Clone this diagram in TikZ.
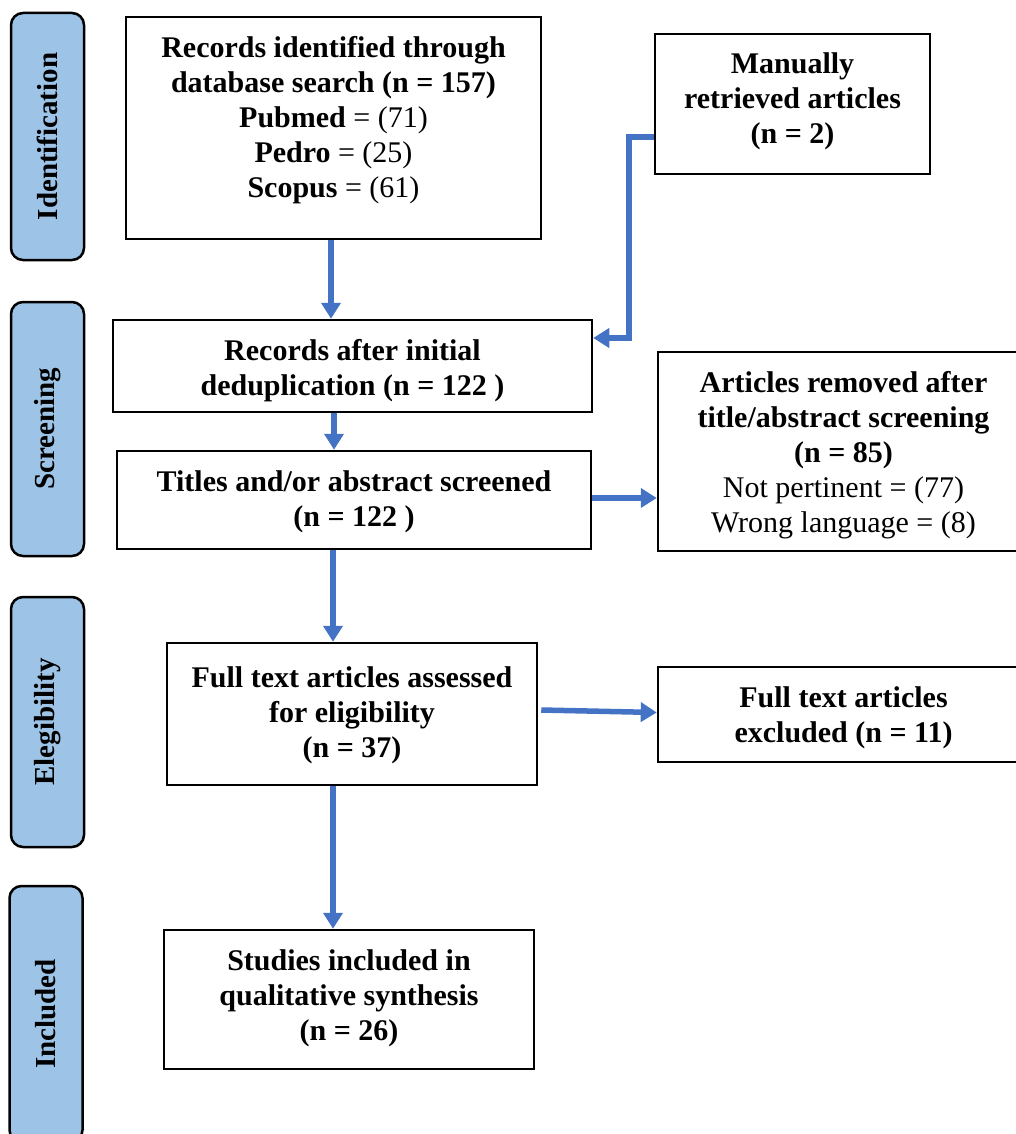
\documentclass[tikz,border=0pt]{standalone}
\usepackage{fontspec}
\setmainfont{Liberation Serif}
\usetikzlibrary{arrows.meta,calc}
\definecolor{arrblue}{HTML}{4472C4}
\definecolor{sidefill}{HTML}{9DC3E6}
\begin{document}
\begin{tikzpicture}[x=1pt,y=-1pt,
  box/.style={draw=black,line width=2.5pt,inner sep=0pt},
  txt/.style={align=center,inner sep=0pt,font=\fontsize{30}{35}\selectfont},
  side/.style={draw=black,fill=sidefill,line width=2.5pt,rounded corners=12pt,
    rotate=90,inner sep=0pt,minimum height=73pt,
    font=\fontsize{29}{35}\selectfont\bfseries},
  arr/.style={draw=arrblue,line width=5.5pt,-{Triangle[length=16pt,width=19pt]}}]
\useasboundingbox (0,0) rectangle (1016,1134);
\clip (0,0) rectangle (1016,1134);
% side labels
\node[side,minimum width=247pt] (sid) at (47.5,136.5) {Identification};
\node[side,minimum width=254pt] (sscr) at (47.5,429) {Screening};
\node[side,minimum width=250pt] (selg) at (47.5,722) {Elegibility};
\node[side,minimum width=256pt] (sinc) at (46,1014) {Included};
% boxes
\node[box,minimum width=415pt,minimum height=222pt] (b1) at (333.5,128) {};
\node[txt] (b1t) at (333.5,120)
  {\textbf{Records identified through}\\ \textbf{database search (n = 157)}\\
   \textbf{Pubmed} = (71)\\ \textbf{Pedro} = (25)\\ \textbf{Scopus} = (61)};
\node[box,minimum width=275pt,minimum height=140pt] (man) at (792.5,104) {};
\node[txt] (mant) at (792.5,101)
  {\textbf{Manually}\\ \textbf{retrieved articles}\\ \textbf{(n = 2)}};
\node[box,minimum width=479pt,minimum height=92pt] (dedup) at (352.5,366) {};
\node[txt] (dedupt) at (352.5,371)
  {\textbf{Records after initial}\\ \textbf{deduplication (n = 122 )}};
\node[box,minimum width=474pt,minimum height=98pt] (tit) at (354,500) {};
\node[txt] (titt) at (354,502)
  {\textbf{Titles and/or abstract screened}\\ \textbf{(n = 122 )}};
\node[box,minimum width=371pt,minimum height=199pt] (rem) at (843.5,451.5) {};
\node[txt] (remt) at (843.5,455.5)
  {\textbf{Articles removed after}\\ \textbf{title/abstract screening}\\ \textbf{(n = 85)}\\
   Not pertinent = (77)\\ Wrong language = (8)};
\node[box,minimum width=370pt,minimum height=142pt] (full) at (352,714) {};
\node[txt] (fullt) at (352,715)
  {\textbf{Full text articles assessed}\\ \textbf{for eligibility}\\ \textbf{(n = 37)}};
\node[box,minimum width=371pt,minimum height=95pt] (exc) at (843.5,714.5) {};
\node[txt] (exct) at (843.5,717.5)
  {\textbf{Full text articles}\\ \textbf{excluded (n = 11)}};
\node[box,minimum width=370pt,minimum height=139pt] (stud) at (349,999.5) {};
\node[txt] (studt) at (349,998.5)
  {\textbf{Studies included in}\\ \textbf{qualitative synthesis}\\ \textbf{(n = 26)}};
% connectors
\draw[arr] ([xshift=-2.5pt]b1.south) -- ([xshift=-2.5pt]b1.south |- dedup.north);
\draw[arr] ([xshift=-18.5pt]dedup.south) -- ([xshift=-18.5pt]dedup.south |- tit.north);
\draw[arr] ([xshift=-21pt]tit.south) -- ([xshift=-21pt]tit.south |- full.north);
\draw[arr] ([xshift=-19pt]full.south) -- ([xshift=-19pt]full.south |- stud.north);
\draw[arr] ([yshift=-33pt]man.west) -- ++(-25,0) |- ([yshift=28pt]dedup.east);
\draw[arr] ([yshift=2pt]tit.east) -- ([yshift=2pt]tit.east -| rem.west);
\draw[arr] ([shift={(3pt,4pt)}]full.east) -- ([yshift=2pt]exc.west);
\end{tikzpicture}
\end{document}
